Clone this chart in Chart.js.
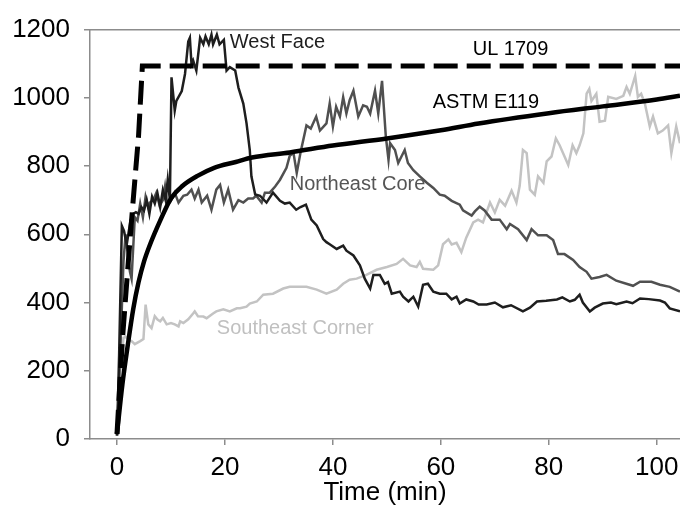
<!DOCTYPE html>
<html>
<head>
<meta charset="utf-8">
<script src="https://cdn.jsdelivr.net/npm/chart.js@4"></script>
<style>
  html, body { margin: 0; padding: 0; background: #fff; }
  #wrap { width: 680px; height: 532px; }
</style>
</head>
<body>
<div id="wrap"><canvas id="chart-temp"></canvas></div>
<script>
// furnace / compartment temperatures vs time

var xTicks = [0, 20, 40, 60, 80, 100];
var yTicks = [0, 200, 400, 600, 800, 1000, 1200];

var ulTime = [0, 1, 2, 3, 4, 4.7, 104.3];
var ulTemp = [15, 290, 500, 700, 890, 1093, 1093];

var astmTime = [0, 1, 2, 3, 4, 5, 6, 8, 10, 12, 15, 18, 22, 25, 32, 40, 50, 60, 67, 80, 90, 100, 104.3];
var astmTemp = [15, 160, 275, 380, 460, 520, 565, 640, 705, 740, 772, 795, 812, 825, 840, 860, 881, 905, 925, 955, 975, 995, 1006];

var westTime = [0, 0.4, 0.9, 1.3, 1.8, 2.1, 2.5, 3, 3.5, 4, 4.5, 5, 5.5, 6, 6.5, 7, 7.5, 8, 8.5, 9, 9.4, 9.8,
  10.1, 10.7, 11, 12, 12.6, 13.2, 13.5, 13.8, 14.1, 14.7, 15.4, 16, 16.4, 17, 17.5, 17.8, 18.5, 19, 19.8,
  20.3, 20.9, 21.9, 22.5, 23.4, 24, 24.6, 24.9, 25.6, 26.5, 27.7, 28.9, 30.2, 31.1, 32, 33.2, 34, 35, 36,
  37, 38.2, 38.8, 39.4, 40.7, 41.9, 42.5, 43.8, 45, 45.9, 46.9, 47.5, 48.7, 49.6, 50.2, 50.9, 52.4, 53,
  54, 54.9, 55.8, 56.7, 57.6, 58.6, 59.8, 61, 62, 62.9, 63.5, 64.7, 66, 67, 68.5, 70, 71.5, 73, 75.2,
  76.5, 77.8, 79.5, 81.5, 82.5, 83.9, 84.8, 85.7, 86.3, 87.6, 88.5, 90, 91.5, 92.5, 94.4, 95.5, 96.9,
  98.5, 100.6, 101.5, 102.4, 104.3];
var westTemp = [10, 250, 625, 610, 570, 600, 640, 660, 665, 660, 680, 670, 700, 660, 710, 690, 720, 680, 730, 700, 760, 700,
  1060, 963, 991, 1020, 1070, 1165, 1176, 1099, 1110, 1080, 1176, 1157, 1180, 1157, 1185, 1157, 1185, 1157, 1170,
  1080, 1090, 1080, 1030, 983, 925, 847, 770, 717, 713, 693, 722, 698, 690, 693, 672, 680, 687, 643,
  626, 586, 577, 571, 557, 567, 552, 538, 509, 470, 441, 481, 481, 455, 460, 426, 432, 417,
  403, 417, 388, 452, 455, 432, 426, 426, 409, 417, 397, 409, 403, 394, 394, 400, 386, 392, 374,
  385, 403, 405, 409, 415, 403, 408, 423, 400, 374, 385, 397, 400, 395, 403, 398, 412,
  410, 406, 400, 383, 374];

var neTime = [0, 0.6, 1.2, 1.6, 2, 2.4, 2.7, 3, 3.3, 3.8, 4.3, 4.8, 5.3, 5.8, 6.1, 6.7, 7.3, 7.9, 8.5, 8.9, 9.3, 9.8,
  10.2, 10.7, 11.4, 12.3, 13, 13.8, 14.4, 15.1, 15.7, 16.7, 17.5, 18.4, 19.1, 19.8, 20.6, 21.5, 22.5, 23.4,
  24.3, 25.2, 25.8, 26.8, 27.4, 28.3, 29.3, 30.2, 31.4, 32, 32.7, 33.3, 34, 35.1, 35.9, 36.9, 37.6, 38.8,
  39.4, 40, 40.6, 41.3, 41.9, 42.5, 43.1, 43.8, 44.7, 45.6, 46.3, 46.9, 47.8, 48.4, 49.1, 49.8, 50.3, 50.6,
  51.5, 52.1, 53.3, 53.9, 54.9, 56.1, 57.4, 58.6, 59.8, 60.7, 62, 63.5, 64.1, 65.7, 66.3, 67.2, 68.1, 69.4,
  70.9, 72.2, 72.8, 74.3, 75.9, 76.8, 78, 79.6, 80.8, 81.7, 82.9, 84.5, 85.7, 87, 87.9, 89.4, 90.7, 92.5,
  95.6, 96.9, 99, 100.6, 102.4, 104.3];
var neTemp = [10, 250, 520, 600, 540, 490, 470, 560, 650, 640, 690, 650, 710, 680, 693, 700, 722, 684, 700, 740, 690, 693,
  705, 722, 693, 713, 716, 731, 705, 731, 693, 713, 672, 731, 745, 693, 731, 672, 700, 693,
  705, 705, 713, 693, 722, 722, 740, 760, 795, 830, 838, 780, 840, 919, 910, 945, 904, 925,
  983, 916, 974, 945, 1002, 954, 993, 1021, 945, 978, 974, 954, 1021, 954, 1050, 887, 818, 867,
  847, 809, 847, 809, 788, 770, 751, 736, 716, 713, 698, 687, 670, 655, 667, 681, 670, 643,
  643, 615, 630, 615, 583, 615, 597, 597, 583, 542, 542, 525, 504, 490, 470, 475, 481, 464,
  449, 461, 461, 452, 446, 432];

var seTime = [0, 0.55, 1.2, 1.6, 2.2, 2.7, 3.3, 4.3, 4.9, 5.3, 5.8, 6.4, 7, 7.5, 8, 8.5, 9.2, 10, 10.7, 11.4, 11.7,
  12.3, 13.2, 14.1, 14.4, 15, 16, 16.6, 17.8, 18.4, 19.7, 20.9, 22.2, 22.8, 24, 24.6, 25.9, 27.1, 28.9, 30.8,
  32, 33.3, 35.1, 37, 38.8, 40.7, 41.9, 43.1, 44.4, 46.2, 48.1, 50, 51.8, 53, 54.3, 55.5, 56.1, 56.7, 58.6,
  59.5, 60.4, 61.4, 62, 62.9, 63.8, 64.7, 66, 66.9, 67.8, 69.1, 70, 70.9, 71.9, 73.1, 74, 74.6, 75.2, 75.9,
  76.5, 77.4, 78, 79, 79.6, 80.5, 81.3, 82, 83.6, 84.4, 85.1, 85.7, 86.4, 87, 87.5, 87.9, 88.8, 89.4, 90.4,
  91, 92.5, 93.8, 94.4, 95, 96, 96.5, 97.1, 97.8, 98.7, 99.3, 100.2, 101.1, 102.1, 102.7, 103.6, 104.3];
var seTemp = [10, 190, 296, 300, 290, 287, 278, 287, 293, 394, 336, 325, 360, 350, 345, 355, 336, 340, 336, 330, 345,
  340, 351, 368, 374, 360, 359, 354, 368, 374, 380, 374, 383, 383, 388, 397, 403, 423, 426, 441,
  446, 446, 446, 438, 426, 438, 455, 467, 470, 481, 496, 504, 513, 528, 509, 504, 519, 499, 496,
  509, 571, 585, 570, 575, 548, 590, 635, 643, 635, 693, 664, 701, 684, 728, 693, 742, 847, 838,
  731, 716, 770, 751, 814, 828, 881, 861, 803, 861, 838, 861, 896, 1012, 1026, 991, 1012, 930, 933,
  1003, 997, 1006, 1032, 1012, 1064, 1003, 1012, 983, 916, 945, 896, 904, 919, 838, 916, 867];

// in-chart series labels: [text, time, temp, colour]
var seriesLabels = [
  ["West Face", 20.9, 1162, "#1e1e1e"],
  ["UL 1709", 65.9, 1142, "#000"],
  ["ASTM E119", 58.5, 986, "#000"],
  ["Northeast Core", 32, 745, "#555"],
  ["Southeast Corner", 18.5, 325, "#c0c0c0"]
];

function pts(t, v) {
  return t.map(function (x, i) { return { x: x, y: v[i] }; });
}

var fontFamily = "'Liberation Sans', Arial, sans-serif";
var axisGray = "#8c8c8c";

var labelPlugin = {
  id: "seriesLabels",
  afterDatasetsDraw: function (chart) {
    var ctx = chart.ctx;
    var xs = chart.scales.x, ys = chart.scales.y;
    ctx.save();
    ctx.font = "20px " + fontFamily;
    ctx.textAlign = "left";
    ctx.textBaseline = "middle";
    seriesLabels.forEach(function (l) {
      ctx.fillStyle = l[3];
      ctx.fillText(l[0], xs.getPixelForValue(l[1]), ys.getPixelForValue(l[2]));
    });
    ctx.restore();
  }
};

var ctx = document.getElementById("chart-temp").getContext("2d");

new Chart(ctx, {
  type: "line",
  data: {
    datasets: [
      {
        label: "UL 1709",
        data: pts(ulTime, ulTemp),
        borderColor: "#000",
        borderWidth: 5,
        borderDash: [24, 9],
        pointRadius: 0,
        tension: 0,
      },
      {
        label: "ASTM E119",
        data: pts(astmTime, astmTemp),
        borderColor: "#000",
        borderWidth: 4.5,
        pointRadius: 0,
        cubicInterpolationMode: "monotone",
      },
      {
        label: "West Face",
        data: pts(westTime, westTemp),
        borderColor: "#1e1e1e",
        borderWidth: 2.5,
        pointRadius: 0,
        tension: 0,
      },
      {
        label: "Northeast Core",
        data: pts(neTime, neTemp),
        borderColor: "#505050",
        borderWidth: 2.5,
        pointRadius: 0,
        tension: 0,
      },
      {
        label: "Southeast Corner",
        data: pts(seTime, seTemp),
        borderColor: "#c3c3c3",
        borderWidth: 2.5,
        pointRadius: 0,
        tension: 0,
      },
    ],
  },
  options: {
    responsive: true,
    maintainAspectRatio: false,
    animation: false,
    layout: {
      padding: { top: 24, right: 0, bottom: 0, left: 0 },
    },
    plugins: {
      legend: { display: false },
      tooltip: { enabled: false },
    },
    scales: {
      x: {
        type: "linear",
        min: -5,
        max: 104.3,
        afterBuildTicks: function (s) {
          s.ticks = xTicks.map(function (v) { return { value: v }; });
        },
        afterFit: function (s) {
          s.height = 93;
          s.paddingLeft = 0;
          s.paddingRight = 0;
        },
        grid: {
          display: true,
          drawOnChartArea: false,
          drawTicks: true,
          tickLength: 6,
          color: axisGray,
          lineWidth: 1.5,
        },
        border: { display: true, color: axisGray, width: 1.5 },
        ticks: {
          padding: 7,
          color: "#000",
          maxRotation: 0,
          font: { size: 26, family: fontFamily },
          callback: function (v) { return String(v); },
        },
        title: {
          display: true,
          text: "Time (min)",
          color: "#000",
          font: { size: 26, family: fontFamily },
          padding: { top: 0, bottom: 24 },
        },
      },
      xTop: {
        type: "linear",
        position: "top",
        min: -5,
        max: 104.3,
        afterFit: function (s) { s.height = 0; },
        grid: { display: false, drawTicks: false },
        border: { display: true, color: axisGray, width: 1.5 },
        ticks: { display: false },
      },
      y: {
        min: 0,
        max: 1200,
        afterBuildTicks: function (s) {
          s.ticks = yTicks.map(function (v) { return { value: v }; });
        },
        afterFit: function (s) { s.width = 90; },
        grid: {
          display: true,
          drawOnChartArea: false,
          drawTicks: true,
          tickLength: 6,
          color: axisGray,
          lineWidth: 1.5,
        },
        border: { display: true, color: axisGray, width: 1.5 },
        ticks: {
          padding: 14,
          color: "#000",
          font: { size: 26, family: fontFamily },
          callback: function (v) { return String(v); },
        },
      },
    },
  },
  plugins: [labelPlugin],
});
</script>
</body>
</html>
